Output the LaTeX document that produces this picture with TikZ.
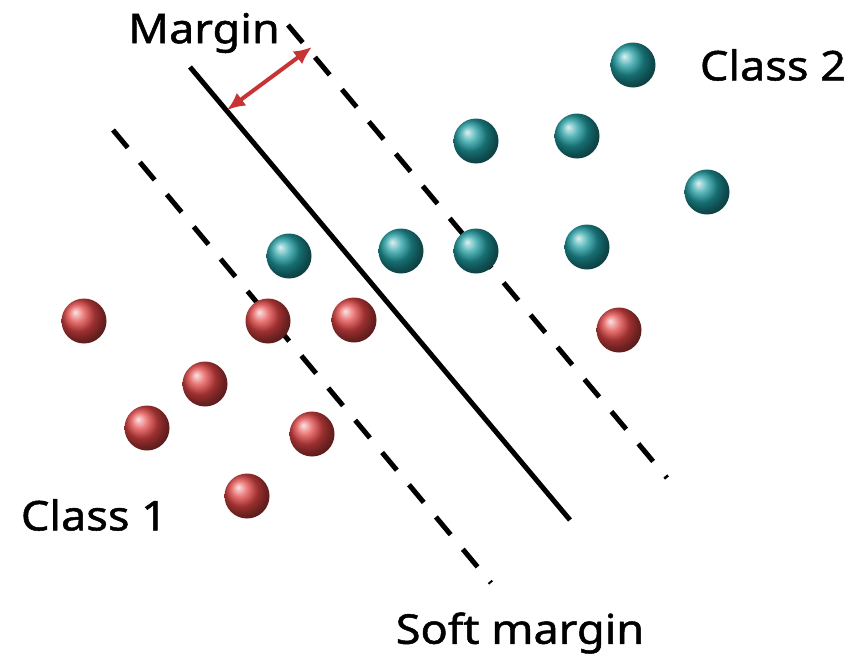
\documentclass[tikz,border=0pt]{standalone}
\usepackage{fontspec}
\setmainfont[FakeStretch=1.1, FakeBold=1.2]{Noto Sans}
\usepackage{tikz}
\usetikzlibrary{arrows.meta}
\definecolor{teal2}{HTML}{1F9CA1}
\definecolor{red1}{HTML}{E04444}
\definecolor{arrred}{HTML}{C83434}

\begin{document}
\begin{tikzpicture}[x=1pt, y=-1pt,
  ballteal/.style={circle, minimum size=45pt, inner sep=0pt, shading=ball, ball color=teal2},
  ballred/.style={circle, minimum size=45pt, inner sep=0pt, shading=ball, ball color=red1},
  lbl/.style={font=\fontsize{41}{43}\selectfont, inner sep=0pt},
  hyper/.style={line width=5pt},
  softline/.style={line width=5pt, dash pattern=on 23pt off 19pt},
  marr/.style={{Latex[length=18pt, width=16pt]}-{Latex[length=18pt, width=16pt]}, arrred, line width=4pt},
]
\useasboundingbox (0,0) rectangle (861,659);

% separating line and margins
\coordinate (h1) at (190,67);
\coordinate (h2) at (570,520);
\coordinate (r1) at (288,25);
\coordinate (r2) at (667,478);
\coordinate (l1) at (113,130);
\coordinate (l2) at (491,583);
\draw[hyper] (h1) -- (h2);
\draw[softline] (r1) -- (r2);
\draw[softline] (l1) -- (l2);

% margin arrow
\coordinate (m1) at (227,110);
\coordinate (m2) at (312,47);
\draw[marr] (m1) -- (m2);

% class 2
\foreach \n/\p in {a/{(633,65)}, b/{(476,141)}, c/{(577,136)}, d/{(707,192)},
  e/{(289,256)}, f/{(401,251)}, g/{(476,251)}, h/{(587,247)}}
  \node[ballteal] (t\n) at \p {};

% class 1
\foreach \n/\p in {a/{(84,321)}, b/{(268,321)}, c/{(354,320)}, d/{(619,330)},
  e/{(205,384)}, f/{(147,428)}, g/{(312,434)}, h/{(247,496)}}
  \node[ballred] (r\n) at \p {};

\node[lbl] (margin) at (204,33) {Margin};
\node[lbl] (cls2) at (773,65) {Class 2};
\node[lbl] (cls1) at (94,515) {Class 1};
\node[lbl] (soft) at (520,633) {Soft margin};

\end{tikzpicture}
\end{document}
